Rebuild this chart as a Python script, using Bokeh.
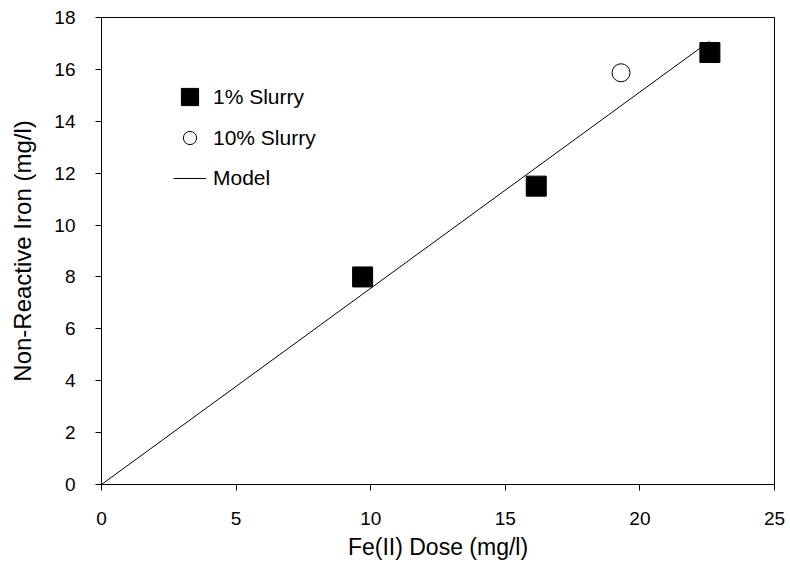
from bokeh.plotting import figure
from bokeh.models import Range1d, Legend, LegendItem, FixedTicker
from bokeh.embed import file_html
from bokeh.resources import INLINE

# Data
slurry1_x = [9.7, 16.15, 22.6]
slurry1_y = [8.0, 11.5, 16.65]
slurry10_x = [19.3]
slurry10_y = [15.87]
model_x = [0.0, 22.58]
model_y = [0.0, 17.08]
x_ticks = [0, 5, 10, 15, 20, 25]
y_ticks = [0, 2, 4, 6, 8, 10, 12, 14, 16, 18]

FONT = "Liberation Sans"

p = figure(width=790, height=563, output_backend="svg", toolbar_location=None,
           x_range=Range1d(0, 25), y_range=Range1d(0, 18),
           min_border_left=101, min_border_right=16, min_border_top=17, min_border_bottom=79)

p.xgrid.visible = False
p.ygrid.visible = False
p.outline_line_color = "black"
p.outline_line_width = 1
p.background_fill_color = "white"
p.border_fill_color = "white"

for ax, ticks in ((p.xaxis[0], x_ticks), (p.yaxis[0], y_ticks)):
    ax.ticker = FixedTicker(ticks=ticks)
    ax.minor_tick_line_color = None
    ax.major_tick_out = 6
    ax.major_tick_in = 0
    ax.axis_line_color = "black"
    ax.major_tick_line_color = "black"
    ax.major_label_text_font = FONT
    ax.major_label_text_font_size = "19px"
    ax.major_label_text_color = "black"
    ax.axis_label_text_font = FONT
    ax.axis_label_text_font_style = "normal"
    ax.axis_label_text_color = "black"

p.xaxis.axis_label = "Fe(II) Dose (mg/l)"
p.yaxis.axis_label = "Non-Reactive Iron (mg/l)"
p.xaxis.axis_label_text_font_size = "23px"
p.yaxis.axis_label_text_font_size = "24px"
p.xaxis.major_label_standoff = 21
p.yaxis.major_label_standoff = 20
p.xaxis.axis_label_standoff = 6
p.yaxis.axis_label_standoff = 15

r_model = p.line(model_x, model_y, line_color="black", line_width=1)
r1 = p.scatter(slurry1_x, slurry1_y, marker="square", size=20,
               fill_color="black", line_color="black")
r10 = p.scatter(slurry10_x, slurry10_y, marker="circle", size=18,
                fill_color="white", line_color="black", line_width=1)


def make_legend(label, rend, loc, gw, gh, standoff):
    return Legend(items=[LegendItem(label=label, renderers=[rend])],
                  location=loc, padding=0, margin=0, spacing=0,
                  glyph_width=gw, glyph_height=gh, label_standoff=standoff,
                  border_line_color=None, background_fill_alpha=0,
                  label_text_font=FONT, label_text_font_size="21px",
                  label_text_color="black")


p.add_layout(make_legend("1% Slurry", r1, (67, 366), 43, 43, 2), "center")
p.add_layout(make_legend("10% Slurry", r10, (67, 330), 43, 33, 2), "center")
p.add_layout(make_legend("Model", r_model, (72, 294), 33, 22, 7), "center")

open("out.html", "w").write(file_html(p, INLINE))
